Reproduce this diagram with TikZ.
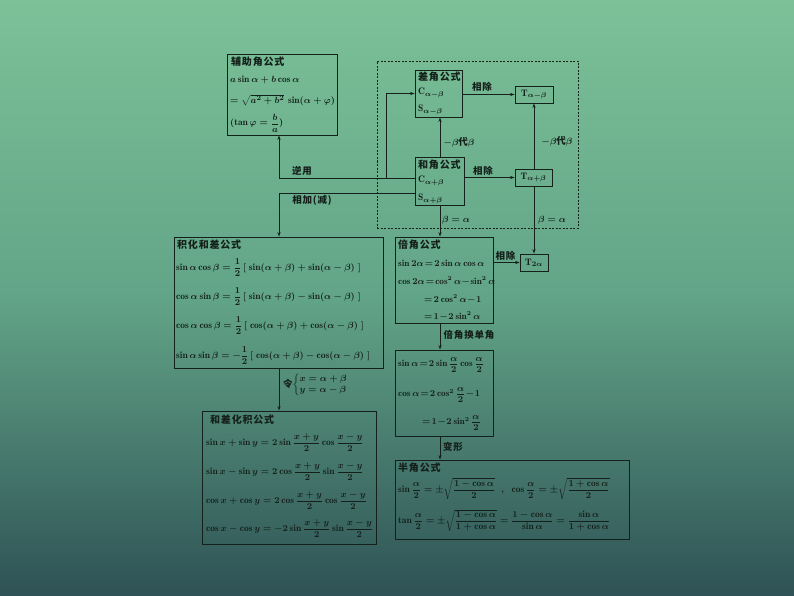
\documentclass[tikz,border=0pt]{standalone}
\usepackage{amsmath}
\usepackage{fontspec}
\newfontfamily\cjk{Noto Sans CJK SC}[LetterSpace=8]
\usetikzlibrary{fit,arrows.meta}
\definecolor{bgtop}{HTML}{7CC198}
\definecolor{bgmid}{HTML}{62A487}
\definecolor{bgbot}{HTML}{2E5255}
\definecolor{ink}{HTML}{14201A}
\begin{document}
\begin{tikzpicture}[x=1pt,y=-1pt,
 bx/.style={draw=ink,line width=0.9pt,inner sep=0pt},
 dbx/.style={draw=ink,line width=0.7pt,dash pattern=on 2pt off 1.5pt,inner sep=0pt},
 mt/.style={anchor=west,inner sep=0pt,text=ink,font=\fontsize{9.5}{11}\selectfont\boldmath},
 mtt/.style={anchor=west,inner sep=0pt,text=ink,font=\fontsize{9.2}{11}\selectfont\boldmath,execute at begin node={\thickmuskip=2mu\medmuskip=1mu}},
 ct/.style={anchor=west,inner sep=0pt,text=ink,font=\cjk\bfseries\fontsize{10}{12}\selectfont},
 lb/.style={inner sep=0pt,text=ink,font=\cjk\bfseries\fontsize{9.5}{11}\selectfont\boldmath},
 arr/.style={draw=ink,line width=0.8pt,-{Stealth[length=4.5pt,width=3.2pt]}}]

\shade[top color=bgtop,bottom color=bgbot,middle color=bgmid] (0,0) rectangle (794,596);
\useasboundingbox (0,0) rectangle (794,596);

% boxes
\node[bx,fit={(227,54)(337,135)}] (fzj) {};
\node[dbx,fit={(377,61)(578,228)}] (dash) {};
\node[bx,fit={(415,70)(462,117)}] (cja) {};
\node[bx,fit={(515,86)(553,103)}] (tm) {};
\node[bx,fit={(415,157)(464,205)}] (hja) {};
\node[bx,fit={(515,169)(552,186)}] (tp) {};
\node[bx,fit={(174,237)(383,368)}] (jh) {};
\node[bx,fit={(395,237)(493,323)}] (bj) {};
\node[bx,fit={(520,254)(548,271)}] (t2) {};
\node[bx,fit={(395,350)(493,436)}] (dj) {};
\node[bx,fit={(202,411)(376,544)}] (hc) {};
\node[bx,fit={(395,460)(629,539)}] (bjg) {};

% auxiliary angle
\node[ct] (fzt) at (231,62) {辅助角公式};
\node[mt] (fz1) at (230,80) {$a\sin\alpha+b\cos\alpha$};
\node[mt] (fz2) at (230,100) {$=\sqrt{a^2+b^2}\,\sin(\alpha+\varphi)$};
\node[mt] (fz3) at (230,123) {$(\tan\varphi=\dfrac{b}{a})$};

% difference / sum
\node[ct] (cjt) at (418,77) {差角公式};
\node[mt] (cj1) at (418,93) {$\mathrm{C}_{\alpha-\beta}$};
\node[mt] (cj2) at (418,110) {$\mathrm{S}_{\alpha-\beta}$};
\node[ct] (hjt) at (418,165) {和角公式};
\node[mt] (hj1) at (418,181) {$\mathrm{C}_{\alpha+\beta}$};
\node[mt] (hj2) at (418,199) {$\mathrm{S}_{\alpha+\beta}$};
\node[mt,anchor=center] (tmt) at (tm) {$\mathrm{T}_{\alpha-\beta}$};
\node[mt,anchor=center] (tpt) at (tp) {$\mathrm{T}_{\alpha+\beta}$};
\node[mt,anchor=center] (t2t) at (t2) {$\mathrm{T}_{2\alpha}$};

% product to sum
\node[ct] (jht) at (177,245) {积化和差公式};
\node[mt] (jh1) at (176,267.5) {$\sin\alpha\cos\beta=\dfrac{1}{2}\,[\;\sin(\alpha+\beta)+\sin(\alpha-\beta)\;]$};
\node[mt] (jh2) at (176,297) {$\cos\alpha\sin\beta=\dfrac{1}{2}\,[\;\sin(\alpha+\beta)-\sin(\alpha-\beta)\;]$};
\node[mt] (jh3) at (176,326) {$\cos\alpha\cos\beta=\dfrac{1}{2}\,[\;\cos(\alpha+\beta)+\cos(\alpha-\beta)\;]$};
\node[mt] (jh4) at (176,356) {$\sin\alpha\sin\beta=-\dfrac{1}{2}\,[\;\cos(\alpha+\beta)-\cos(\alpha-\beta)\;]$};

% double angle
\node[ct] (bjt) at (398,245) {倍角公式};
\node[mtt] (bj1) at (398,263) {$\sin2\alpha=2\sin\alpha\cos\alpha$};
\node[mtt] (bj2) at (398,281) {$\cos2\alpha=\cos^2\alpha-\sin^2\alpha$};
\node[mtt] (bj3) at (424,299) {$=2\cos^2\alpha-1$};
\node[mtt] (bj4) at (424,316) {$=1-2\sin^2\alpha$};

% single angle
\node[mtt] (dj1) at (398,365) {$\sin\alpha=2\sin\dfrac{\alpha}{2}\cos\dfrac{\alpha}{2}$};
\node[mtt] (dj2) at (398,395) {$\cos\alpha=2\cos^2\dfrac{\alpha}{2}-1$};
\node[mtt] (dj3) at (422,423) {$=1-2\sin^2\dfrac{\alpha}{2}$};

% sum to product
\node[ct] (hct) at (210,420) {和差化积公式};
\node[mt] (hc1) at (206,442.6) {$\sin x+\sin y=2\sin\dfrac{x+y}{2}\cos\dfrac{x-y}{2}$};
\node[mt] (hc2) at (206,472) {$\sin x-\sin y=2\cos\dfrac{x+y}{2}\sin\dfrac{x-y}{2}$};
\node[mt] (hc3) at (206,500.5) {$\cos x+\cos y=2\cos\dfrac{x+y}{2}\cos\dfrac{x-y}{2}$};
\node[mt] (hc4) at (206,529) {$\cos x-\cos y=-2\sin\dfrac{x+y}{2}\sin\dfrac{x-y}{2}$};

% half angle
\node[ct] (bgt) at (398,468) {半角公式};
\node[mt] (bg1) at (398,489) {$\sin\dfrac{\alpha}{2}=\pm\sqrt{\dfrac{1-\cos\alpha}{2}}\;\;,\;\;\cos\dfrac{\alpha}{2}=\pm\sqrt{\dfrac{1+\cos\alpha}{2}}$};
\node[mt] (bg2) at (398,521) {$\tan\dfrac{\alpha}{2}=\pm\sqrt{\dfrac{1-\cos\alpha}{1+\cos\alpha}}=\dfrac{1-\cos\alpha}{\sin\alpha}=\dfrac{\sin\alpha}{1+\cos\alpha}$};

% labels
\node[lb] (l1) at (302,171) {逆用};
\node[lb] (l2) at (312,200.5) {相加(减)};
\node[lb] (l3) at (482,87) {相除};
\node[lb] (l4) at (483,170.5) {相除};
\node[lb] (l5) at (459,142) {$-\beta$代$\beta$};
\node[lb] (l6) at (557,141) {$-\beta$代$\beta$};
\node[lb] (l7) at (456,220) {$\beta=\alpha$};
\node[lb] (l8) at (552,220) {$\beta=\alpha$};
\node[lb] (l9) at (505.5,256) {相除};
\node[lb] (l10) at (469,334.5) {倍角换单角};
\node[lb] (l11) at (453,447) {变形};
\node[lb,anchor=west] (l12) at (283,385) {令$\left\{\begin{array}{@{}l@{}}x=\alpha+\beta\\ y=\alpha-\beta\end{array}\right.$};

% connectors
\coordinate (xL) at (279,0);
\coordinate (xM) at (386,0);
\coordinate (yA) at (0,178);
\coordinate (yB) at (0,193);
\coordinate (xD) at (440,0);
\coordinate (xT) at (534,0);

\draw[arr] (hja.west |- yA) -| (xL |- fzj.south);
\draw[arr] (xM |- yA) |- (cja.west);
\draw[arr] (hja.west |- yB) -| (xL |- jh.north);
\draw[arr] (cja.east |- tm.west) -- (tm.west);
\draw[arr] (xD |- hja.north) -- (xD |- cja.south);
\draw[arr] (hja.east |- tp.west) -- (tp.west);
\draw[arr] (xT |- tp.north) -- (xT |- tm.south);
\draw[arr] (xD |- hja.south) -- (xD |- bj.north);
\draw[arr] (xT |- tp.south) -- (xT |- t2.north);
\draw[arr] (bj.east |- t2.west) -- (t2.west);
\draw[arr] (xD |- bj.south) -- (xD |- dj.north);
\draw[arr] (xD |- dj.south) -- (xD |- bjg.north);
\draw[arr] (xL |- jh.south) -- (xL |- hc.north);
\end{tikzpicture}
\end{document}
